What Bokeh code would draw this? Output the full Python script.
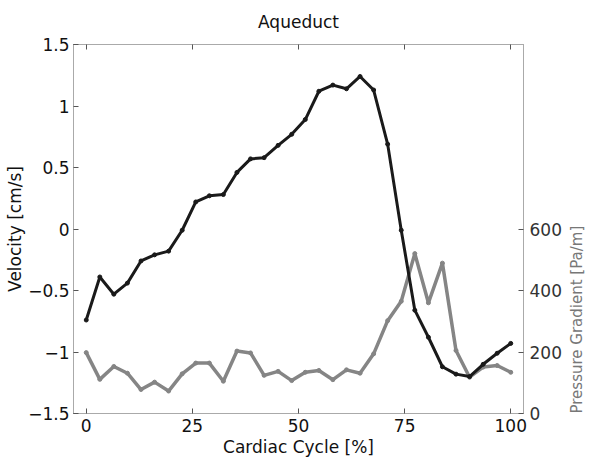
from bokeh.plotting import figure
from bokeh.models import Range1d, LinearAxis, FixedTicker, CustomLabelingPolicy
from bokeh.embed import file_html
from bokeh.resources import INLINE

# Cardiac cycle sample positions [%]
cycle = [0.0, 3.2, 6.5, 9.7, 12.9, 16.1, 19.4, 22.6, 25.8, 29.0, 32.3, 35.5,
         38.7, 41.9, 45.2, 48.4, 51.6, 54.8, 58.1, 61.3, 64.5, 67.7, 71.0, 74.2,
         77.4, 80.6, 83.9, 87.1, 90.3, 93.5, 96.8, 100.0]

# Velocity [cm/s]
velocity = [-0.74, -0.39, -0.53, -0.44, -0.26, -0.21, -0.18, -0.01, 0.22, 0.27,
            0.28, 0.46, 0.57, 0.58, 0.68, 0.77, 0.89, 1.12, 1.17, 1.14, 1.24,
            1.13, 0.69, -0.01, -0.66, -0.88, -1.12, -1.18, -1.20, -1.10, -1.01,
            -0.93]

# Pressure gradient [Pa/m]
pressure = [198, 111, 153, 131, 78, 102, 73, 129, 164, 164, 105, 203, 197, 124,
            137, 107, 134, 140, 110, 142, 131, 194, 302, 365, 520, 360, 489, 205,
            118, 151, 156, 134]

vel_ticks = [-1.5, -1, -0.5, 0, 0.5, 1, 1.5]
cycle_ticks = [0, 25, 50, 75, 100]
pressure_ticks = [0, 200, 400, 600]

FONT = "DejaVu Sans"
FS = "17px"

p = figure(width=598, height=462, output_backend="svg", toolbar_location=None,
           x_range=Range1d(-3, 103), y_range=Range1d(-1.5, 1.5),
           min_border_left=73, min_border_right=75, min_border_top=44,
           min_border_bottom=49, title="Aqueduct")
p.extra_y_ranges = {"p": Range1d(0, 1200)}

p.title.align = "center"
p.title.text_font = FONT
p.title.text_font_size = FS
p.title.text_font_style = "normal"
p.title.text_color = "#111111"
p.title.standoff = 17

p.grid.visible = False
p.outline_line_color = None
p.background_fill_color = "white"
p.border_fill_color = "white"

AX_COLOR = "#555555"

def style_axis(ax):
    ax.axis_line_color = AX_COLOR
    ax.axis_line_dash = "1 1"
    ax.major_tick_in = 5
    ax.major_tick_out = 0
    ax.minor_tick_line_color = None
    ax.major_tick_line_color = AX_COLOR
    ax.major_label_text_font = FONT
    ax.major_label_text_font_size = FS
    ax.major_label_text_color = "#111111"
    ax.axis_label_text_font = FONT
    ax.axis_label_text_font_size = FS
    ax.axis_label_text_font_style = "normal"
    ax.axis_label_text_color = "#111111"

# bottom axis
xa = p.xaxis[0]
xa.ticker = FixedTicker(ticks=cycle_ticks)
xa.axis_label = "Cardiac Cycle [%]"
style_axis(xa)
xa.major_label_standoff = 5
xa.axis_label_standoff = 2

# left axis
ya = p.yaxis[0]
ya.ticker = FixedTicker(ticks=vel_ticks)
ya.axis_label = "Velocity [cm/s]"
style_axis(ya)
ya.major_label_standoff = 4
ya.axis_label_standoff = 0

# top axis (ticks only, no labels)
no_labels = CustomLabelingPolicy(code="""
for (let i = 0; i < indices.size; i++) { indices.unset(i) }
return indices
""")
top = LinearAxis(ticker=FixedTicker(ticks=cycle_ticks), major_label_policy=no_labels)
style_axis(top)
top.major_label_text_font_size = "1px"
top.major_label_standoff = 0
p.add_layout(top, "above")

# right axis (pressure)
ra = LinearAxis(y_range_name="p", ticker=FixedTicker(ticks=pressure_ticks),
                axis_label="Pressure Gradient [Pa/m]")
style_axis(ra)
ra.major_label_text_color = "#333333"
ra.major_label_standoff = 6
ra.axis_label_text_color = "#777777"
ra.axis_label_text_font_size = "15px"
ra.axis_label_standoff = 12
try:
    ra.axis_label_orientation = 1.5708
except Exception:
    pass
for align in ("start", "left"):
    try:
        ra.axis_label_align = align
        break
    except Exception:
        pass
p.add_layout(ra, "right")

# lines
p.line(cycle, pressure, y_range_name="p", line_color="#858585", line_width=3.5)
p.scatter(cycle, pressure, y_range_name="p", size=4, color="#858585")
p.line(cycle, velocity, line_color="#1a1a1a", line_width=3)
p.scatter(cycle, velocity, size=4, color="#1a1a1a")

open("out.html", "w").write(file_html(p, INLINE))
